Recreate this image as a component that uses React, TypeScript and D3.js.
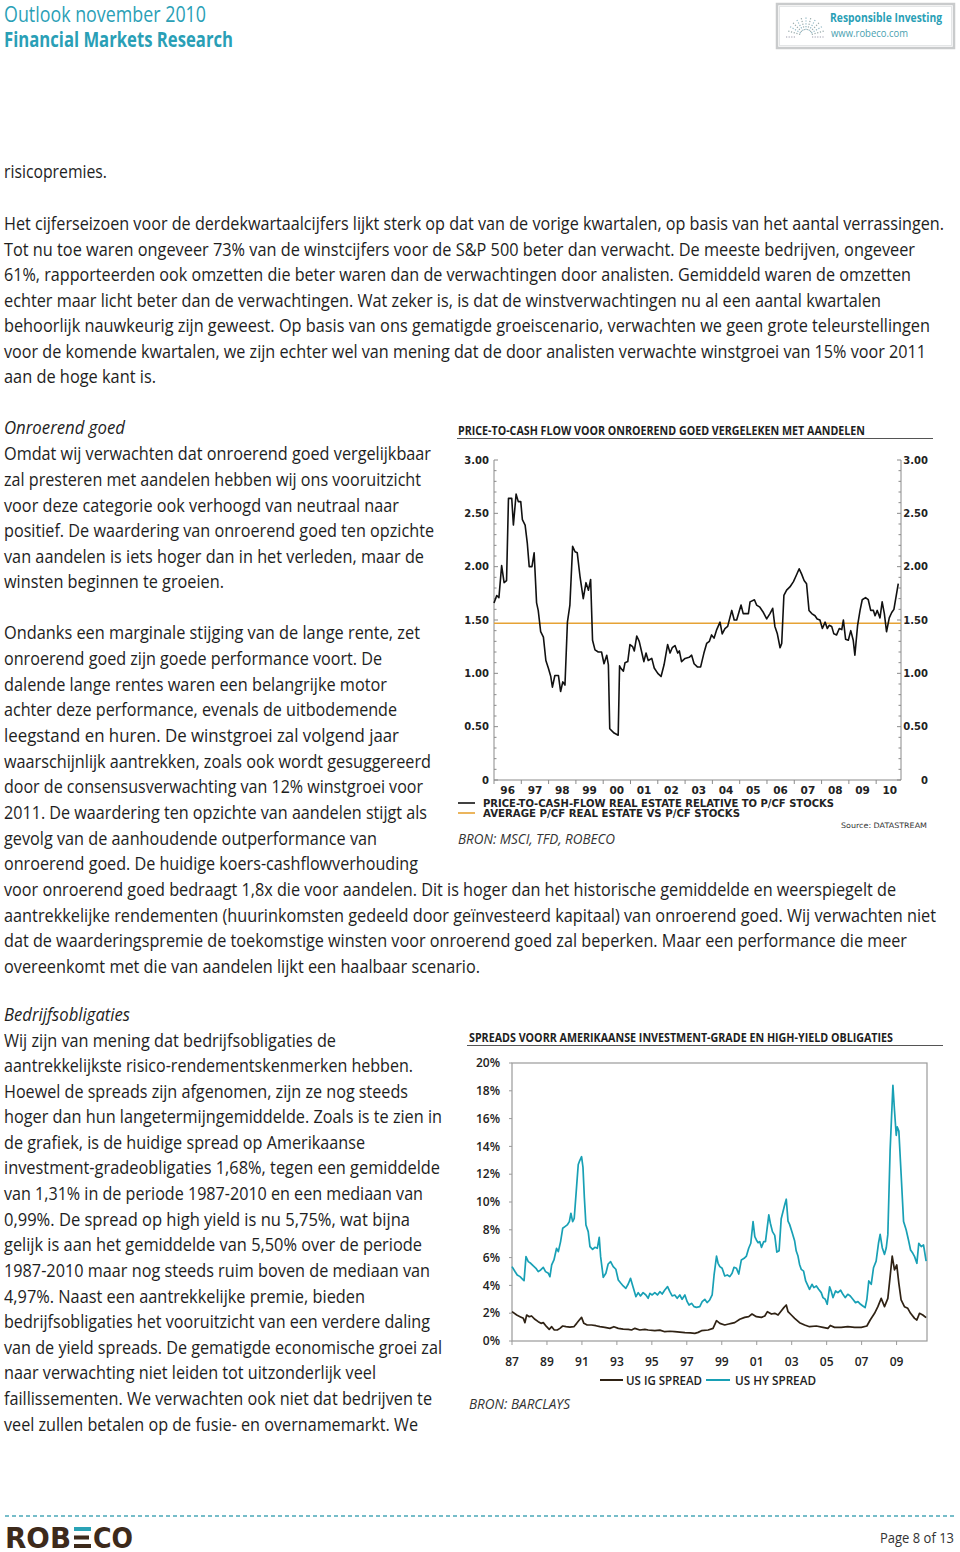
import React from 'react';
import * as d3 from 'd3';

// ---------- Chart 1 data: P/CF real estate relative to P/CF stocks ----------
const reYears = [
  1996.0, 1996.1, 1996.18, 1996.28, 1996.37, 1996.46, 1996.53, 1996.65, 1996.71, 1996.81, 1996.89, 1996.98,
  1997.04, 1997.14, 1997.22, 1997.29, 1997.39, 1997.47, 1997.56, 1997.62, 1997.71, 1997.81, 1997.9, 1997.99,
  1998.08, 1998.14, 1998.23, 1998.36, 1998.44, 1998.52, 1998.6, 1998.69, 1998.78, 1998.88, 1998.97,
  1999.05, 1999.15, 1999.27, 1999.37, 1999.46, 1999.54, 1999.61, 1999.7, 1999.82, 1999.94,
  2000.03, 2000.13, 2000.19, 2000.24, 2000.4, 2000.55, 2000.6, 2000.64, 2000.74, 2000.8, 2000.9, 2000.98,
  2001.08, 2001.14, 2001.23, 2001.32, 2001.41, 2001.49, 2001.57, 2001.65, 2001.78, 2001.87,
  2002.0, 2002.12, 2002.23, 2002.36, 2002.45, 2002.53, 2002.63, 2002.73, 2002.79, 2002.87,
  2003.0, 2003.15, 2003.24, 2003.33, 2003.45, 2003.57, 2003.69, 2003.79, 2003.89, 2003.97,
  2004.06, 2004.16, 2004.28, 2004.36, 2004.46, 2004.56, 2004.71, 2004.8, 2004.89,
  2005.05, 2005.13, 2005.32, 2005.38, 2005.54, 2005.62, 2005.74, 2005.87, 2005.99,
  2006.11, 2006.21, 2006.29, 2006.38, 2006.48, 2006.54, 2006.62, 2006.72, 2006.84, 2006.97,
  2007.06, 2007.18, 2007.27, 2007.36, 2007.45, 2007.54, 2007.64, 2007.76, 2007.84, 2007.94,
  2008.03, 2008.13, 2008.21, 2008.28, 2008.37, 2008.45, 2008.55, 2008.65, 2008.74, 2008.8, 2008.88, 2008.98,
  2009.07, 2009.16, 2009.22, 2009.32, 2009.41, 2009.49, 2009.61, 2009.71, 2009.8, 2009.9, 2009.96,
  2010.04, 2010.14, 2010.22, 2010.3, 2010.38, 2010.48, 2010.57, 2010.65, 2010.81,
];
const reValues = [
  1.66, 1.73, 1.71, 2.01, 1.85, 1.87, 2.64, 2.64, 2.39, 2.68, 2.61, 2.61,
  2.44, 2.39, 2.22, 2.0, 2.0, 2.13, 1.66, 1.59, 1.39, 1.34, 1.12, 1.05,
  0.97, 0.87, 0.98, 0.98, 0.83, 0.92, 0.89, 1.48, 1.64, 2.19, 2.14,
  2.13, 1.91, 1.7, 1.85, 1.78, 1.88, 1.31, 1.22, 1.2, 1.2,
  1.09, 1.17, 1.08, 0.48, 0.44, 0.42, 1.07, 1.05, 1.02, 1.1, 1.11, 1.27,
  1.25, 1.21, 1.35, 1.3, 1.2, 1.11, 1.19, 1.12, 1.14, 1.05,
  1.0, 0.97, 1.08, 1.27, 1.19, 1.24, 1.26, 1.19, 1.21, 1.11,
  1.14, 1.15, 1.17, 1.09, 1.06, 1.06, 1.19, 1.28, 1.3, 1.36,
  1.33, 1.41, 1.48, 1.37, 1.42, 1.44, 1.59, 1.5, 1.5,
  1.64, 1.56, 1.56, 1.67, 1.69, 1.64, 1.62, 1.57, 1.51,
  1.56, 1.61, 1.44, 1.37, 1.24, 1.28, 1.73, 1.78, 1.81, 1.86,
  1.91, 1.98, 1.93, 1.87, 1.84, 1.59, 1.56, 1.54, 1.51, 1.5,
  1.42, 1.48, 1.42, 1.45, 1.44, 1.37, 1.36, 1.42, 1.41, 1.5, 1.32, 1.31,
  1.4, 1.31, 1.17, 1.45, 1.59, 1.69, 1.71, 1.69, 1.59, 1.59, 1.54,
  1.59, 1.52, 1.67, 1.56, 1.39, 1.52, 1.57, 1.6, 1.84,
];
const reAverage = 1.47;
const reYTicks = [0, 0.5, 1, 1.5, 2, 2.5, 3];
const reYearLabels = ['96', '97', '98', '99', '00', '01', '02', '03', '04', '05', '06', '07', '08', '09', '10'];

// ---------- Chart 2 data: US IG and HY spreads (%) ----------
const hyYears = [
  1987.0, 1987.17, 1987.3, 1987.46, 1987.61, 1987.69, 1987.8, 1987.93, 1988.07, 1988.22, 1988.37, 1988.5, 1988.64, 1988.79, 1988.92,
  1989.08, 1989.17, 1989.27, 1989.4, 1989.55, 1989.65, 1989.78, 1989.9, 1990.03, 1990.16, 1990.28, 1990.37, 1990.47, 1990.56,
  1990.7, 1990.79, 1990.85, 1990.98, 1991.06, 1991.14, 1991.23, 1991.36, 1991.46, 1991.61, 1991.74, 1991.88, 1991.99,
  1992.07, 1992.22, 1992.37, 1992.5, 1992.64, 1992.79, 1992.94, 1993.08, 1993.23, 1993.36, 1993.51, 1993.65, 1993.78, 1993.93,
  1994.09, 1994.22, 1994.35, 1994.5, 1994.66, 1994.79, 1994.89, 1995.02, 1995.17, 1995.32, 1995.46, 1995.59, 1995.74, 1995.9,
  1996.03, 1996.16, 1996.31, 1996.45, 1996.6, 1996.73, 1996.89, 1997.02, 1997.13, 1997.27, 1997.42, 1997.55, 1997.74, 1997.88,
  1998.03, 1998.16, 1998.31, 1998.45, 1998.56, 1998.7, 1998.79, 1998.89, 1999.02, 1999.17, 1999.32, 1999.46, 1999.59, 1999.7, 1999.84, 1999.97,
  2000.12, 2000.28, 2000.41, 2000.54, 2000.66, 2000.79, 2000.89, 2000.98, 2001.08, 2001.17, 2001.27, 2001.4, 2001.5, 2001.69, 2001.78, 2001.9,
  2002.03, 2002.15, 2002.28, 2002.4, 2002.5, 2002.6, 2002.69, 2002.79, 2002.88, 2003.03, 2003.17, 2003.26, 2003.36, 2003.45, 2003.55, 2003.68, 2003.8, 2003.93,
  2004.02, 2004.16, 2004.27, 2004.41, 2004.54, 2004.69, 2004.79, 2004.92, 2005.03, 2005.17, 2005.26, 2005.36, 2005.51, 2005.64, 2005.8, 2005.93,
  2006.06, 2006.21, 2006.35, 2006.5, 2006.65, 2006.79, 2006.94, 2007.07, 2007.2, 2007.3, 2007.41, 2007.55, 2007.68, 2007.83, 2007.97,
  2008.06, 2008.18, 2008.31, 2008.41, 2008.5, 2008.63, 2008.79, 2008.88, 2008.98, 2009.04, 2009.13, 2009.26, 2009.4, 2009.55, 2009.68, 2009.8, 2009.93,
  2010.03, 2010.16, 2010.27, 2010.41, 2010.54, 2010.69,
];
const hyValues = [
  5.35, 5.0, 4.75, 4.63, 4.44, 4.34, 6.07, 5.71, 5.59, 5.4, 5.23, 4.99, 5.11, 5.3, 4.99,
  4.87, 4.63, 5.47, 5.83, 6.67, 6.43, 7.15, 8.11, 8.23, 8.35, 8.59, 9.19, 8.59, 8.83,
  11.2, 12.7, 12.9, 13.26, 12.5, 10.3, 8.35, 7.87, 6.79, 6.59, 6.74, 6.67, 7.46,
  6.07, 4.58, 4.87, 5.54, 5.71, 5.35, 5.16, 4.39, 4.15, 3.96, 3.79, 4.1, 4.51, 3.86,
  3.19, 3.48, 3.24, 3.48, 3.31, 3.07, 3.43, 3.31, 3.48, 3.31, 3.55, 3.38, 3.67, 3.91,
  3.55, 3.24, 3.31, 3.07, 3.31, 3.0, 3.31, 2.83, 2.59, 2.71, 2.47, 2.42, 2.47, 2.83,
  3.0, 2.76, 2.95, 3.31, 4.75, 6.11, 5.59, 5.35, 5.23, 4.68, 4.75, 4.63, 4.87, 5.3, 5.23, 4.82,
  5.83, 5.95, 6.11, 6.67, 7.03, 8.59, 7.51, 7.27, 7.07, 7.15, 6.74, 7.15, 7.15, 9.07, 8.47, 7.87,
  7.6, 6.4, 6.5, 8.8, 9.3, 9.8, 10.2, 8.62, 8.39, 7.79, 7.19, 6.47, 6.11, 5.51, 5.15, 5.03, 4.32, 3.96,
  3.72, 4.08, 3.84, 3.96, 3.72, 3.48, 3.12, 3.0, 2.64, 3.89, 3.6, 3.12, 3.6, 3.48, 3.65, 3.36,
  3.12, 3.36, 3.24, 3.0, 2.76, 2.83, 2.64, 2.52, 2.4, 3.0, 4.32, 4.08, 5.27, 5.75, 7.07,
  7.67, 6.71, 6.23, 6.71, 7.67, 13.7, 18.4, 16.6, 14.8, 15.4, 15.1, 12.0, 8.59, 7.99, 7.27, 6.55, 6.31,
  6.07, 5.59, 7.03, 6.79, 6.91, 5.75,
];
const igYears = [
  1987.0, 1987.27, 1987.46, 1987.65, 1987.74, 1987.84, 1987.99, 1988.12, 1988.31, 1988.5, 1988.66, 1988.79, 1988.98,
  1989.13, 1989.27, 1989.42, 1989.59, 1989.74, 1989.9, 1990.09, 1990.31, 1990.54, 1990.7, 1990.85, 1990.98,
  1991.11, 1991.3, 1991.55, 1991.8, 1992.03, 1992.31, 1992.6, 1992.83, 1993.08, 1993.36, 1993.65, 1993.84,
  1994.03, 1994.31, 1994.6, 1994.79, 1995.17, 1995.46, 1995.74, 1996.03, 1996.31, 1996.6, 1996.89, 1997.2, 1997.46, 1997.65, 1997.84,
  1998.22, 1998.5, 1998.7, 1998.89, 1999.17, 1999.4, 1999.55, 1999.74, 2000.03, 2000.31, 2000.54, 2000.73, 2000.98,
  2001.27, 2001.46, 2001.61, 2001.84, 2002.03, 2002.22, 2002.41, 2002.55, 2002.69, 2002.79, 2002.98, 2003.17, 2003.45, 2003.74,
  2004.02, 2004.41, 2004.79, 2005.07, 2005.21, 2005.45, 2005.83, 2006.21, 2006.6, 2006.98, 2007.3, 2007.49, 2007.74, 2007.93,
  2008.12, 2008.31, 2008.5, 2008.63, 2008.75, 2008.88, 2009.01, 2009.13, 2009.26, 2009.45, 2009.64, 2009.8,
  2010.03, 2010.16, 2010.31, 2010.5, 2010.69,
];
const igValues = [
  2.11, 1.87, 1.75, 1.63, 1.32, 1.87, 1.75, 1.8, 1.56, 1.39, 1.27, 1.32, 1.03,
  0.84, 1.03, 0.79, 0.79, 0.91, 1.08, 1.03, 1.0, 1.03, 1.27, 1.51, 1.7,
  1.27, 1.15, 1.15, 1.1, 1.03, 0.98, 0.91, 1.03, 0.91, 0.86, 0.84, 0.79,
  0.91, 0.79, 0.84, 0.79, 0.74, 0.78, 0.67, 0.7, 0.67, 0.64, 0.6, 0.58, 0.55, 0.62, 0.74,
  0.79, 0.91, 1.46, 1.27, 1.15, 1.22, 1.27, 1.32, 1.56, 1.7, 1.75, 1.94, 1.75,
  1.7, 1.8, 2.11, 1.94, 1.99, 1.87, 2.18, 2.4, 2.59, 2.11, 1.87, 1.63, 1.32, 1.15,
  1.03, 1.08, 0.98, 0.91, 1.12, 0.98, 0.98, 1.03, 0.98, 0.98, 1.08, 1.51, 1.99, 2.47,
  3.07, 2.47, 3.07, 4.63, 6.1, 5.11, 5.47, 4.15, 2.95, 2.47, 2.35, 1.99,
  1.63, 1.51, 1.99, 1.87, 1.68,
];
const spYTicks = [0, 2, 4, 6, 8, 10, 12, 14, 16, 18, 20];
const spYearTicks = [1987, 1989, 1991, 1993, 1995, 1997, 1999, 2001, 2003, 2005, 2007, 2009];

// ---------- Page text ----------
type Line = [string, number, number, number]; // text, x, centre y, end x
const introLines: Line[] = [
  ['risicopremies.', 4, 172, 107],
  ['Het cijferseizoen voor de derdekwartaalcijfers lijkt sterk op dat van de vorige kwartalen, op basis van het aantal verrassingen.', 4, 224, 944],
  ['Tot nu toe waren ongeveer 73% van de winstcijfers voor de S&P 500 beter dan verwacht. De meeste bedrijven, ongeveer', 4, 250, 915],
  ['61%, rapporteerden ook omzetten die beter waren dan de verwachtingen door analisten. Gemiddeld waren de omzetten', 4, 275, 911],
  ['echter maar licht beter dan de verwachtingen. Wat zeker is, is dat de winstverwachtingen nu al een aantal kwartalen', 4, 301, 881],
  ['behoorlijk nauwkeurig zijn geweest. Op basis van ons gematigde groeiscenario, verwachten we geen grote teleurstellingen', 4, 326, 930],
  ['voor de komende kwartalen, we zijn echter wel van mening dat de door analisten verwachte winstgroei van 15% voor 2011', 4, 352, 926],
  ['aan de hoge kant is.', 4, 377, 156],
];
const realEstateLines: Line[] = [
  ['Omdat wij verwachten dat onroerend goed vergelijkbaar', 4, 454, 431],
  ['zal presteren met aandelen hebben wij ons vooruitzicht', 4, 480, 421],
  ['voor deze categorie ook verhoogd van neutraal naar', 4, 506, 399],
  ['positief. De waardering van onroerend goed ten opzichte', 4, 531, 434],
  ['van aandelen is iets hoger dan in het verleden, maar de', 4, 557, 424],
  ['winsten beginnen te groeien.', 4, 582, 224],
  ['Ondanks een marginale stijging van de lange rente, zet', 4, 633, 420],
  ['onroerend goed zijn goede performance voort. De', 4, 659, 382],
  ['dalende lange rentes waren een belangrijke motor', 4, 685, 387],
  ['achter deze performance, evenals de uitbodemende', 4, 710, 397],
  ['leegstand en huren. De winstgroei zal volgend jaar', 4, 736, 399],
  ['waarschijnlijk aantrekken, zoals ook wordt gesuggereerd', 4, 762, 431],
  ['door de consensusverwachting van 12% winstgroei voor', 4, 787, 423],
  ['2011. De waardering ten opzichte van aandelen stijgt als', 4, 813, 427],
  ['gevolg van de aanhoudende outperformance van', 4, 839, 377],
  ['onroerend goed. De huidige koers-cashflowverhouding', 4, 864, 418],
  ['voor onroerend goed bedraagt 1,8x die voor aandelen. Dit is hoger dan het historische gemiddelde en weerspiegelt de', 4, 890, 896],
  ['aantrekkelijke rendementen (huurinkomsten gedeeld door geïnvesteerd kapitaal) van onroerend goed. Wij verwachten niet', 4, 916, 936],
  ['dat de waarderingspremie de toekomstige winsten voor onroerend goed zal beperken. Maar een performance die meer', 4, 941, 907],
  ['overeenkomt met die van aandelen lijkt een haalbaar scenario.', 4, 967, 480],
];
const bondLines: Line[] = [
  ['Wij zijn van mening dat bedrijfsobligaties de', 4, 1041, 336],
  ['aantrekkelijkste risico-rendementskenmerken hebben.', 4, 1066, 413],
  ['Hoewel de spreads zijn afgenomen, zijn ze nog steeds', 4, 1092, 408],
  ['hoger dan hun langetermijngemiddelde. Zoals is te zien in', 4, 1117, 442],
  ['de grafiek, is de huidige spread op Amerikaanse', 4, 1143, 365],
  ['investment-gradeobligaties 1,68%, tegen een gemiddelde', 4, 1168, 440],
  ['van 1,31% in de periode 1987-2010 en een mediaan van', 4, 1194, 423],
  ['0,99%. De spread op high yield is nu 5,75%, wat bijna', 4, 1220, 410],
  ['gelijk is aan het gemiddelde van 5,50% over de periode', 4, 1245, 422],
  ['1987-2010 maar nog steeds ruim boven de mediaan van', 4, 1271, 430],
  ['4,97%. Naast een aantrekkelijke premie, bieden', 4, 1297, 365],
  ['bedrijfsobligaties het vooruitzicht van een verdere daling', 4, 1322, 430],
  ['van de yield spreads. De gematigde economische groei zal', 4, 1348, 442],
  ['naar verwachting niet leiden tot uitzonderlijk veel', 4, 1373, 376],
  ['faillissementen. We verwachten ook niet dat bedrijven te', 4, 1399, 432],
  ['veel zullen betalen op de fusie- en overnamemarkt. We', 4, 1425, 418],
];

const BODY = "'Liberation Sans Narrow','Open Sans',sans-serif";
const LABEL = "'DejaVu Sans',sans-serif";
const TEAL = '#2a9fb6';
const TEXT = '#1e1e1e';

function Fit(props: { t: string; x: number; y: number; w?: number; size: number; weight?: any; italic?: boolean; fill?: string; family?: string; anchor?: any }) {
  const { t, x, y, w, size, weight, italic, fill, family, anchor } = props;
  return (
    <text x={x} y={y} fontSize={size} fontWeight={weight || 'normal'} fontStyle={italic ? 'italic' : 'normal'}
      fill={fill || TEXT} fontFamily={family || BODY} textAnchor={anchor || 'start'}
      {...(w ? { textLength: w, lengthAdjust: 'spacingAndGlyphs' } : {})}>{t}</text>
  );
}

function BodyLines({ lines }: { lines: Line[] }) {
  return (
    <g>
      {lines.map(([t, x, cy, ex], i) => (
        <Fit key={i} t={t} x={x} y={cy + 6} w={ex - x} size={18} />
      ))}
    </g>
  );
}

function RealEstateChart() {
  const x = d3.scaleLinear().domain([1996, 2010.91]).range([494, 901]);
  const y = d3.scaleLinear().domain([0, 3]).range([780, 460]);
  const line = d3.line<number>().x((_, i) => x(reYears[i])).y((d) => y(d));
  const minor = d3.range(0, 3.0001, 0.1);
  const years = d3.range(1996, 2011);
  const axisCol = '#8a8a8a';
  return (
    <g>
      <Fit t="PRICE-TO-CASH FLOW VOOR ONROEREND GOED VERGELEKEN MET AANDELEN" x={458} y={435} w={407} size={12} weight="bold" />
      <line x1={457} x2={933} y1={438.5} y2={438.5} stroke="#555" strokeWidth={1} />
      {/* axes */}
      <line x1={494} x2={494} y1={y(3)} y2={y(0)} stroke={axisCol} />
      <line x1={901} x2={901} y1={y(3)} y2={y(0)} stroke={axisCol} />
      <line x1={494} x2={901} y1={y(0)} y2={y(0)} stroke={axisCol} />
      {minor.map((v, i) => (
        <g key={i}>
          <line x1={494} x2={494 + (i % 5 === 0 ? 4 : 2.5)} y1={y(v)} y2={y(v)} stroke={axisCol} />
          <line x1={901} x2={901 - (i % 5 === 0 ? 4 : 2.5)} y1={y(v)} y2={y(v)} stroke={axisCol} />
        </g>
      ))}
      {years.map((yr) => (
        <line key={yr} x1={x(yr)} x2={x(yr)} y1={y(0)} y2={y(0) + 4} stroke={axisCol} />
      ))}
      {reYTicks.map((v) => (
        <g key={v}>
          <text x={489} y={y(v)} dy="0.35em" textAnchor="end" fontSize={10} fontWeight="bold" fontFamily={LABEL} fill="#222">{v === 0 ? '0' : v.toFixed(2)}</text>
          <text x={928} y={y(v)} dy="0.35em" textAnchor="end" fontSize={10} fontWeight="bold" fontFamily={LABEL} fill="#222">{v === 0 ? '0' : v.toFixed(2)}</text>
        </g>
      ))}
      {reYearLabels.map((l, i) => (
        <text key={l} x={x(1996 + i + 0.5)} y={794} textAnchor="middle" fontSize={10.5} fontWeight="bold" fontFamily={LABEL} fill="#222">{l}</text>
      ))}
      {/* average */}
      <line x1={494} x2={901} y1={y(reAverage)} y2={y(reAverage)} stroke="#e6a234" strokeWidth={1.6} />
      <path d={line(reValues) || ''} fill="none" stroke="#111" strokeWidth={1.6} strokeLinejoin="round" />
      {/* legend */}
      <line x1={458} x2={475} y1={803} y2={803} stroke="#111" strokeWidth={1.6} />
      <Fit t="PRICE-TO-CASH-FLOW REAL ESTATE RELATIVE TO P/CF STOCKS" x={483} y={807} w={351} size={10.5} weight="bold" family={LABEL} fill="#222" />
      <line x1={458} x2={475} y1={813} y2={813} stroke="#e6a234" strokeWidth={1.6} />
      <Fit t="AVERAGE P/CF REAL ESTATE VS P/CF STOCKS" x={483} y={817} w={257} size={10.5} weight="bold" family={LABEL} fill="#222" />
      <Fit t="Source: DATASTREAM" x={841} y={828} w={86} size={7.5} family={LABEL} fill="#333" />
      <Fit t="BRON: MSCI, TFD, ROBECO" x={458} y={844} w={157} size={14} italic fill="#333" />
    </g>
  );
}

function SpreadsChart() {
  const x = d3.scaleLinear().domain([1987, 2010.74]).range([512, 927]);
  const y = d3.scaleLinear().domain([0, 20]).range([1341, 1063]);
  const hyLine = d3.line<number>().x((_, i) => x(hyYears[i])).y((d) => y(d));
  const igLine = d3.line<number>().x((_, i) => x(igYears[i])).y((d) => y(d));
  const frame = '#9a9a9a';
  const HY = '#18a0b5';
  const IG = '#2f2214';
  return (
    <g>
      <Fit t="SPREADS VOORR AMERIKAANSE INVESTMENT-GRADE EN HIGH-YIELD OBLIGATIES" x={469} y={1042} w={424} size={12} weight="bold" />
      <line x1={467} x2={943} y1={1045.5} y2={1045.5} stroke="#555" strokeWidth={1} />
      <rect x={512} y={y(20)} width={927 - 512} height={y(0) - y(20)} fill="none" stroke={frame} strokeWidth={1.2} />
      {spYTicks.map((v) => (
        <g key={v}>
          <line x1={509} x2={512} y1={y(v)} y2={y(v)} stroke={frame} />
          <text x={500} y={y(v)} dy="0.35em" textAnchor="end" fontSize={12} fontWeight={600} fontFamily="'Open Sans',sans-serif" fill="#222">{v}%</text>
        </g>
      ))}
      {spYearTicks.map((yr) => (
        <g key={yr}>
          <line x1={x(yr)} x2={x(yr)} y1={y(0)} y2={y(0) + 4} stroke={frame} />
          <text x={x(yr)} y={1366} textAnchor="middle" fontSize={12} fontWeight={600} fontFamily="'Open Sans',sans-serif" fill="#222">{String(yr).slice(2)}</text>
        </g>
      ))}
      <path d={hyLine(hyValues) || ''} fill="none" stroke={HY} strokeWidth={1.7} strokeLinejoin="round" />
      <path d={igLine(igValues) || ''} fill="none" stroke={IG} strokeWidth={1.7} strokeLinejoin="round" />
      <line x1={600} x2={623} y1={1380} y2={1380} stroke={IG} strokeWidth={2} />
      <Fit t="US IG SPREAD" x={626} y={1385} w={76} size={12} weight={600} family="'Open Sans',sans-serif" fill="#222" />
      <line x1={706} x2={730} y1={1380} y2={1380} stroke={HY} strokeWidth={2} />
      <Fit t="US HY SPREAD" x={735} y={1385} w={81} size={12} weight={600} family="'Open Sans',sans-serif" fill="#222" />
      <Fit t="BRON: BARCLAYS" x={469} y={1409} w={101} size={14} italic fill="#333" />
    </g>
  );
}

function Header() {
  const rays = d3.range(-5, 6).map((k) => k * 0.26);
  return (
    <g>
      <Fit t="Outlook november 2010" x={4} y={22} w={202} size={21} fill={TEAL} />
      <Fit t="Financial Markets Research" x={4} y={47} w={229} size={21} weight="bold" fill={TEAL} />
      <rect x={777} y={4} width={177} height={44} fill="#fff" stroke="#c9cbcc" strokeWidth={2.5} />
      <rect x={779.5} y={6.5} width={172} height={39} fill="none" stroke="#e4e6e7" strokeWidth={1} />
      {rays.map((a, i) => (
        <line key={i} x1={806 + Math.sin(a) * 6} y1={36 - Math.cos(a) * 6} x2={806 + Math.sin(a) * 20} y2={36 - Math.cos(a) * 20}
          stroke={i % 2 ? '#8fb7c4' : '#9aa'} strokeWidth={1.2} strokeDasharray="1.2 1.6" />
      ))}
      <line x1={786} x2={796} y1={37} y2={37} stroke="#99a" strokeDasharray="1.2 1.4" />
      <line x1={812} x2={824} y1={37} y2={37} stroke="#99a" strokeDasharray="1.2 1.4" />
      <Fit t="Responsible Investing" x={830} y={22} w={112} size={12.5} weight="bold" fill={TEAL} />
      <Fit t="www.robeco.com" x={831} y={37} w={77} size={10.5} fill="#4a9fb0" />
    </g>
  );
}

function Footer() {
  const brown = '#3d2a1b';
  return (
    <g>
      <line x1={5} x2={955} y1={1516} y2={1516} stroke="#4aa8b8" strokeWidth={1.6} strokeDasharray="4 3" />
      <Fit t="ROB" x={5} y={1548} w={66} size={29} weight="bold" fill={brown} family="'DejaVu Sans',sans-serif" />
      <rect x={74} y={1527} width={17} height={4} fill="#2aa3b6" />
      <rect x={74} y={1535.5} width={15} height={4} fill={brown} />
      <rect x={74} y={1544} width={17} height={4} fill={brown} />
      <Fit t="CO" x={93} y={1548} w={40} size={29} weight="bold" fill={brown} family="'DejaVu Sans',sans-serif" />
      <Fit t="Page 8 of 13" x={880} y={1543} w={74} size={15} fill="#333" />
    </g>
  );
}

export default function App() {
  return (
    <svg width={960} height={1552} viewBox="0 0 960 1552" style={{ position: 'absolute', left: 0, top: 0, background: '#fff' }}>
      <rect width={960} height={1552} fill="#fff" />
      <Header />
      <BodyLines lines={introLines} />
      <Fit t="Onroerend goed" x={4} y={434} w={121} size={18} italic />
      <BodyLines lines={realEstateLines} />
      <Fit t="Bedrijfsobligaties" x={4} y={1021} w={126} size={18} italic />
      <BodyLines lines={bondLines} />
      <RealEstateChart />
      <SpreadsChart />
      <Footer />
    </svg>
  );
}
